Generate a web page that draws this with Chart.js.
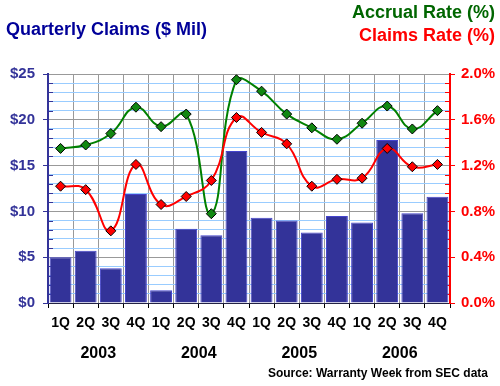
<!DOCTYPE html>
<html><head><meta charset="utf-8">
<script src="https://cdn.jsdelivr.net/npm/chart.js@4"></script>
<style>
html,body{margin:0;padding:0;background:#fff;}
#wrap{position:relative;width:500px;height:386px;overflow:hidden;}
canvas{position:absolute;left:0;top:0;}
.t{position:absolute;font-family:"Liberation Sans",Arial,sans-serif;font-weight:bold;white-space:nowrap;line-height:1;}
</style></head><body>
<div id="wrap">
<canvas id="c" width="500" height="386"></canvas>
<div class="t" style="left:6px;top:20px;font-size:18px;color:#000099">Quarterly Claims ($ Mil)</div>
<div class="t" style="right:5px;top:3px;font-size:18px;color:#006600">Accrual Rate (%)</div>
<div class="t" style="right:5px;top:26px;font-size:18px;color:#ff0000">Claims Rate (%)</div>
<div class="t" style="right:12px;top:367px;font-size:12px;color:#000">Source: Warranty Week from SEC data</div>
<div id="years"></div>
</div>
<script>
const quarters = ['1Q','2Q','3Q','4Q','1Q','2Q','3Q','4Q','1Q','2Q','3Q','4Q','1Q','2Q','3Q','4Q'];
const years = ['2003','2004','2005','2006'];
const claimsMil = [5.0, 5.7, 3.8, 11.9, 1.4, 8.1, 7.4, 16.6, 9.3, 9.0, 7.7, 9.5, 8.8, 17.8, 9.8, 11.6];
const accrualRate = [1.35, 1.38, 1.48, 1.71, 1.54, 1.65, 0.78, 1.95, 1.85, 1.65, 1.53, 1.43, 1.57, 1.72, 1.52, 1.68];
const claimsRate = [1.02, 0.99, 0.63, 1.21, 0.86, 0.93, 1.07, 1.62, 1.49, 1.39, 1.02, 1.08, 1.09, 1.35, 1.19, 1.21];
const leftTicks = Array.from({length:26}, (_, i) => i);          // $0..$25 step $1
const rightTicks = Array.from({length:26}, (_, i) => i * 0.08);  // 0..2.0% step 0.08

Chart.defaults.font.family = '"Liberation Sans", Arial, sans-serif';
Chart.defaults.font.weight = 'bold';

const minorTicks = {
  id: 'minorTicks',
  beforeDatasetsDraw(chart) {
    const ctx = chart.ctx, a = chart.chartArea;
    ctx.save();
    ctx.lineWidth = 1;
    const y = chart.scales.y, y1 = chart.scales.y1;
    ctx.strokeStyle = '#333399';
    y.ticks.forEach((t, i) => {
      if (i % 5) {
        const p = Math.round(y.getPixelForValue(t.value)) + 0.5;
        ctx.beginPath(); ctx.moveTo(a.left, p); ctx.lineTo(a.left + 5, p); ctx.stroke();
      }
    });
    ctx.strokeStyle = '#ff0000';
    y1.ticks.forEach((t, i) => {
      if (i % 5) {
        const p = Math.round(y1.getPixelForValue(t.value)) + 0.5;
        ctx.beginPath(); ctx.moveTo(a.right - 5, p); ctx.lineTo(a.right, p); ctx.stroke();
      }
    });
    ctx.restore();
  }
};

const chart = new Chart(document.getElementById('c'), {
  data: {
    labels: quarters,
    datasets: [
      {
        type: 'line', label: 'Claims Rate (%)', data: claimsRate, yAxisID: 'y1', order: 1,
        borderColor: '#ff0000', borderWidth: 2, tension: 0.45,
        pointStyle: 'rectRot', pointRadius: 5, pointBackgroundColor: '#ff0000',
        pointBorderColor: '#000', pointBorderWidth: 1
      },
      {
        type: 'line', label: 'Accrual Rate (%)', data: accrualRate, yAxisID: 'y1', order: 2,
        borderColor: '#008000', borderWidth: 2, tension: 0.45,
        pointStyle: 'rectRot', pointRadius: 5, pointBackgroundColor: '#118811',
        pointBorderColor: '#000', pointBorderWidth: 1
      },
      {
        type: 'bar', label: 'Quarterly Claims ($ Mil)', data: claimsMil, yAxisID: 'y', order: 3,
        backgroundColor: '#333399', borderColor: '#4444cc', borderWidth: 1,
        barPercentage: 0.87, categoryPercentage: 1.0
      }
    ]
  },
  options: {
    responsive: false,
    animation: false,
    layout: { padding: { top: 74, left: 0, right: 0, bottom: 0 } },
    plugins: { legend: { display: false }, tooltip: { enabled: false } },
    scales: {
      x: {
        offset: true,
        grid: { offset: true, color: '#999999', tickLength: 5, tickColor: '#000' },
        border: { color: '#222244', width: 1 },
        ticks: { color: '#000', font: { size: 14, weight: 'bold' }, padding: 7, maxRotation: 0, autoSkip: false },
        afterFit(s) { s.height = 83; }
      },
      y: {
        position: 'left', min: 0, max: 25,
        afterBuildTicks(s) { s.ticks = leftTicks.map(v => ({ value: v })); },
        grid: {
          color: c => (c.index % 5 === 0 ? '#999999' : '#99ccff'),
          tickColor: c => (c.index % 5 === 0 ? '#333399' : 'rgba(0,0,0,0)'),
          tickLength: 5
        },
        border: { color: '#333399', width: 2 },
        ticks: {
          autoSkip: false, color: '#333399', font: { size: 15, weight: 'bold' }, padding: 8,
          callback: (v, i) => (i % 5 === 0 ? '$' + v : '')
        },
        afterFit(s) { s.width = 48; }
      },
      y1: {
        position: 'right', min: 0, max: 2.0,
        afterBuildTicks(s) { s.ticks = rightTicks.map(v => ({ value: v })); },
        grid: {
          drawOnChartArea: false,
          tickColor: c => (c.index % 5 === 0 ? '#ff0000' : 'rgba(0,0,0,0)'),
          tickLength: 5
        },
        border: { color: '#ff0000', width: 2 },
        ticks: {
          autoSkip: false, color: '#ff0000', font: { size: 15, weight: 'bold' }, padding: 6,
          callback: (v, i) => (i % 5 === 0 ? v.toFixed(1) + '%' : '')
        },
        afterFit(s) { s.width = 50; }
      }
    }
  },
  plugins: [minorTicks]
});

const xs = chart.scales.x;
const yc = document.getElementById('years');
years.forEach((yr, k) => {
  const cx = (xs.getPixelForValue(k * 4 + 1) + xs.getPixelForValue(k * 4 + 2)) / 2;
  const d = document.createElement('div');
  d.className = 't';
  d.style.cssText = 'left:' + cx + 'px;top:345px;font-size:16px;color:#000;transform:translateX(-50%)';
  d.textContent = yr;
  yc.appendChild(d);
});
</script>
</body></html>
